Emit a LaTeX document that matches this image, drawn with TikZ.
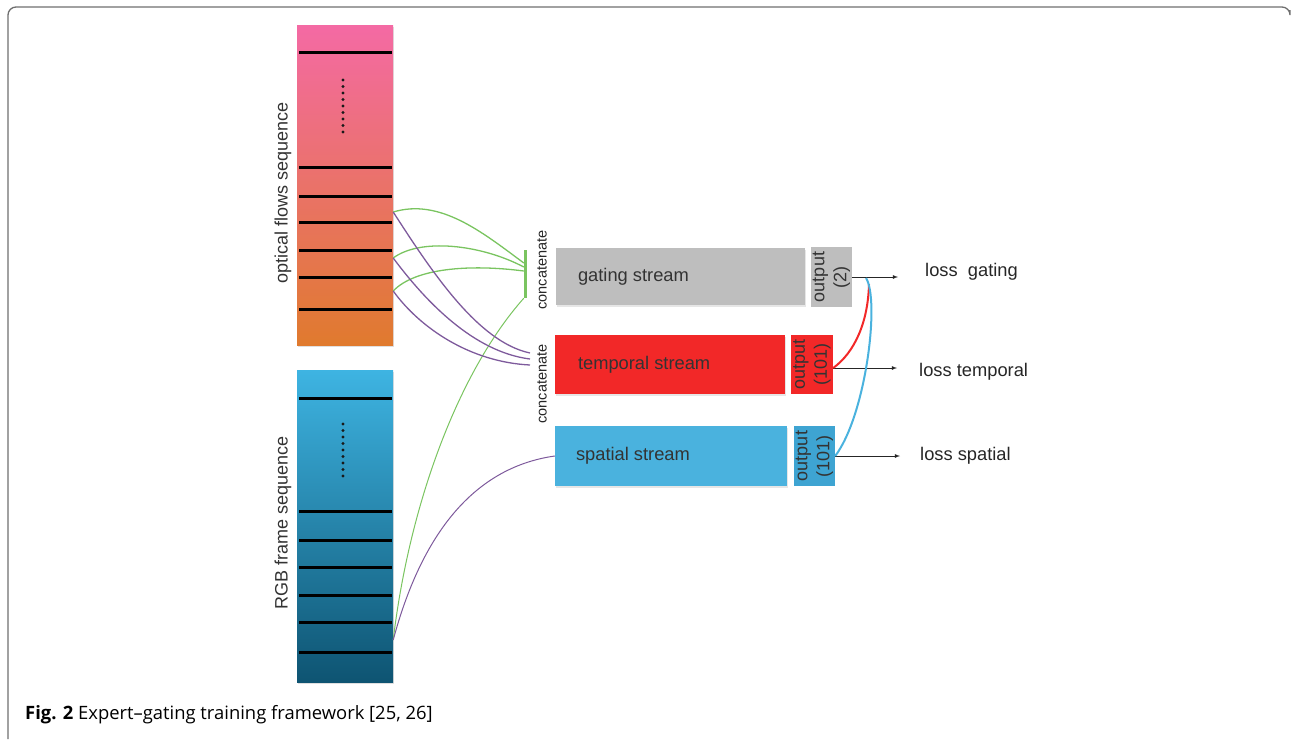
\documentclass[tikz,border=0pt]{standalone}
\usepackage{fontspec}
\setmainfont{Liberation Sans}
\newfontfamily\capfont{Open Sans}
\usetikzlibrary{positioning,shadows}

\definecolor{flowtop}{RGB}{244,106,164}
\definecolor{flowmid}{RGB}{242,118,110}
\definecolor{flowbot}{RGB}{224,122,46}
\definecolor{rgbtop}{RGB}{62,180,226}
\definecolor{rgbmid}{RGB}{34,136,182}
\definecolor{rgbbot}{RGB}{14,84,114}
\definecolor{gatebg}{RGB}{190,190,190}
\definecolor{tempbg}{RGB}{242,40,40}
\definecolor{spatbg}{RGB}{74,178,222}
\definecolor{spatout}{RGB}{62,164,210}
\definecolor{catgreen}{RGB}{122,196,96}
\definecolor{catpurple}{RGB}{126,90,156}
\definecolor{framegray}{RGB}{110,110,110}

\tikzset{
  seqbar/.style={rectangle, inner sep=0pt, minimum width=96pt,
    drop shadow={opacity=0.25, shadow xshift=1pt, shadow yshift=-2pt}},
  seqline/.style={line width=3pt, black},
  seqdots/.style={line width=3.2pt, dash pattern=on 0pt off 6.5pt, line cap=round, black!90},
  seqlabel/.style={rotate=90, inner sep=0pt, font=\fontsize{18}{21}\selectfont, text=black!80},
  streambox/.style={rectangle, inner sep=0pt,
    drop shadow={opacity=0.2, shadow xshift=1pt, shadow yshift=-1.5pt}},
  streamtext/.style={inner sep=0pt, font=\fontsize{18.3}{21}\selectfont, text=black!80},
  outbox/.style={rectangle, inner sep=0pt, minimum height=60pt},
  outtext/.style={rotate=90, align=center, inner sep=0pt, font=\fontsize{18}{22}\selectfont, text=black!80},
  catlabel/.style={rotate=90, inner sep=0pt, font=\fontsize{14.5}{17}\selectfont, text=black!85},
  greenlink/.style={catgreen, line width=1.3pt},
  purplelink/.style={catpurple, line width=1.3pt},
  lossarrow/.style={->, >=latex, black!85, line width=0.8pt},
  losstext/.style={anchor=west, inner sep=0pt, font=\fontsize{18.3}{21}\selectfont, text=black!85},
  frameline/.style={framegray, line width=1.3pt}
}

\begin{document}
\begin{tikzpicture}[x=1pt, y=-1pt]
  \useasboundingbox (0,0) rectangle (1292,739);
  \draw[frameline, rounded corners=8pt] (1290,10) -- (1290,7) -- (8,7) -- (8,739);

  % input sequences
  \node[seqbar, minimum height=320pt, top color=flowtop, middle color=flowmid, bottom color=flowbot] (optical) at (345,185) {};
  \node[seqbar, minimum height=312pt, top color=rgbtop, middle color=rgbmid, bottom color=rgbbot] (rgb) at (345,526) {};
  \foreach \y in {52,167,196,222,250,277,309,398,511,540,567,595,622,652}
    \draw[seqline] (299,\y) -- (392,\y);
  \draw[seqdots] (343,80) -- (343,136);
  \draw[seqdots] (343,424) -- (343,480);
  \node[seqlabel] (opticallabel) at (283,193) {optical flows sequence};
  \node[seqlabel] (rgblabel) at (283,523) {RGB frame sequence};

  % streams
  \node[streambox, fill=gatebg, minimum width=249pt, minimum height=57pt] (gate) at (680.5,276.5) {};
  \node[streambox, fill=tempbg, minimum width=230pt, minimum height=59pt] (temp) at (670,364.5) {};
  \node[streambox, fill=spatbg, minimum width=232pt, minimum height=60pt] (spat) at (671,456) {};
  \node[streamtext, right=22pt of gate.west] (gatetext) {gating stream};
  \node[streamtext, right=23pt of temp.west] (temptext) {temporal stream};
  \node[streamtext, right=21pt of spat.west] (spattext) {spatial stream};

  \node[outbox, fill=gatebg, minimum width=41pt] (gout) at (831.5,277) {};
  \node[outbox, fill=tempbg, minimum width=42pt, minimum height=59pt] (tout) at (812,364.5) {};
  \node[outbox, fill=spatout, minimum width=41pt] (sout) at (814.5,456) {};
  \node[outtext] (gouttext) at (gout) {output\\(2)};
  \node[outtext] (touttext) at (tout) {output\\(101)};
  \node[outtext] (souttext) at (sout) {output\\(101)};

  % concatenation
  \node[rectangle, inner sep=0pt, fill=catgreen, minimum width=3pt, minimum height=48pt] (catbar) at (525.5,274) {};
  \node[catlabel] (catgate) at (542,270) {concatenate};
  \node[catlabel] (cattemp) at (542,384) {concatenate};

  \coordinate (o1) at (optical.east |- 0,212);
  \coordinate (o2) at (optical.east |- 0,258);
  \coordinate (o3) at (optical.east |- 0,291);
  \coordinate (r1) at (rgb.east |- 0,640);
  \coordinate (t1) at (530,353);
  \coordinate (t2) at (530,359);
  \coordinate (t3) at (530,365);

  \draw[greenlink] (o1) .. controls (440,198) and (482,232) .. ([yshift=11pt]catbar.west);
  \draw[greenlink] (o2) .. controls (420,238) and (480,244) .. ([yshift=7pt]catbar.west);
  \draw[greenlink] (o3) .. controls (415,268) and (470,264) .. ([yshift=3pt]catbar.west);
  \draw[greenlink, line width=1pt] (r1) .. controls (410,500) and (460,370) .. (catbar.south west);
  \draw[purplelink] (o1) .. controls (432,272) and (478,342) .. (t1);
  \draw[purplelink] (o2) .. controls (426,302) and (474,352) .. (t2);
  \draw[purplelink] (o3) .. controls (420,328) and (470,362) .. (t3);
  \draw[purplelink, line width=1pt] (r1) .. controls (420,540) and (470,468) .. (spat.west);

  % losses
  \node[losstext] (lossgate) at (925,272) {loss\ \ gating};
  \node[losstext] (losstemp) at (919,372) {loss temporal};
  \node[losstext] (lossspat) at (920,456) {loss spatial};
  \draw[lossarrow, shorten >=27pt] (gout.east) -- (gout.east -| lossgate.west);
  \draw[lossarrow, shorten >=22pt] ([yshift=-3.5pt]tout.east) -- ([yshift=-3.5pt]tout.east -| losstemp.west);
  \draw[lossarrow, shorten >=20pt] (sout.east) -- (sout.east -| lossspat.west);

  \coordinate (gjoin) at (869,284);
  \coordinate (bjoin) at (866,278);
  \draw[tempbg, line width=2pt] ([yshift=-3.5pt]tout.east) .. controls (855,352) and (868,322) .. (gjoin);
  \draw[spatbg, line width=2pt] (sout.east) .. controls (866,415) and (880,300) .. (bjoin);

  % caption
  \node[anchor=base west, inner sep=0pt, font=\capfont\fontsize{18.4}{22}\selectfont] (caption) at (25,719)
    {\textbf{Fig. 2} Expert–gating training framework [25, 26]};
\end{tikzpicture}
\end{document}
